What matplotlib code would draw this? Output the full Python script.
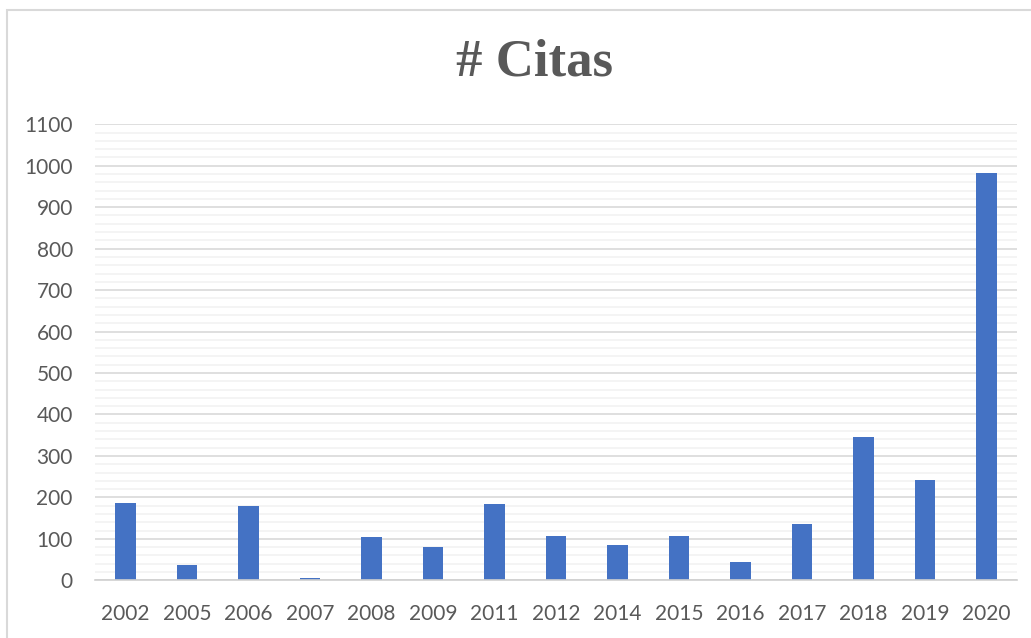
import matplotlib.pyplot as plt
from matplotlib.patches import Rectangle
from matplotlib.ticker import MultipleLocator

years = ["2002", "2005", "2006", "2007", "2008", "2009", "2011", "2012",
         "2014", "2015", "2016", "2017", "2018", "2019", "2020"]
citas = [187, 37, 179, 5, 104, 80, 184, 106, 84, 106, 43, 135, 346, 242, 982]

plt.rcParams['font.family'] = ['Lato', 'DejaVu Sans']

fig = plt.figure(figsize=(10.31, 6.38), dpi=100)
ax = fig.add_axes([95 / 1031, 1 - 580.3 / 638, (1017 - 95) / 1031, (580.3 - 124.3) / 638])

# outer chart frame (only left and top visible in the crop)
fig.patches.append(Rectangle((7 / 1031, -0.1), 1.2, (638 - 10) / 638 + 0.1,
                             transform=fig.transFigure, fill=False,
                             edgecolor='#d9d9d9', linewidth=1.5))

x = range(len(years))
ax.bar(x, citas, width=0.335, color='#4472c4', zorder=3)

ax.set_xlim(-0.5, len(years) - 0.5)
ax.set_ylim(0, 1100)
ax.yaxis.set_major_locator(MultipleLocator(100))
ax.yaxis.set_minor_locator(MultipleLocator(20))
ax.grid(axis='y', which='major', color='#d9d9d9', linewidth=1.2, zorder=0)
ax.grid(axis='y', which='minor', color='#f2f2f2', linewidth=1.2, zorder=0)

ax.set_xticks(list(x))
ax.set_xticklabels(years)
ax.tick_params(axis='both', which='both', length=0, labelsize=15, colors='#595959')
ax.tick_params(axis='x', pad=17)
ax.tick_params(axis='y', pad=16)

for s in ['top', 'right', 'left']:
    ax.spines[s].set_visible(False)
ax.spines['bottom'].set_color('#d0d0d0')
ax.spines['bottom'].set_linewidth(1.2)
ax.spines['bottom'].set_zorder(4)

fig.text(535 / 1031, 1 - 62 / 638, "# Citas", ha='center', va='center',
         family='Liberation Serif', fontweight='bold', fontsize=38, color='#595959')

fig.savefig("out.png", dpi=100)
